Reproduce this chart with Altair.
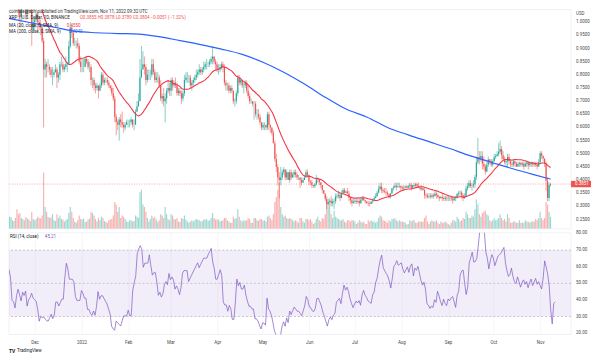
import altair as alt
import pandas as pd
import numpy as np

# ---------------- data (daily XRP/USD) ----------------
start_date = "2021-10-20"

closes = [
    # Oct 20-31 2021
    1.09, 1.05, 1.07, 1.11, 1.09, 1.11, 1.09, 0.98, 1.05, 1.09, 1.08, 1.08,
    # Nov 2021
    1.09, 1.15, 1.14, 1.21, 1.19, 1.20, 1.24, 1.27, 1.24, 1.16,
    1.19, 1.20, 1.21, 1.21, 1.18, 1.07, 1.06, 1.02, 1.07, 1.10,
    1.07, 1.03, 1.07, 1.05, 1.07, 0.97, 1.00, 1.01, 1.03, 1.00,
    # Dec 2021
    0.99, 0.98, 0.93, 0.82, 0.84, 0.83, 0.83, 0.82, 0.80, 0.80,
    0.81, 0.82, 0.79, 0.80, 0.84, 0.84, 0.82, 0.83, 0.84, 0.84,
    0.91, 0.98, 0.96, 0.92, 0.92, 0.92, 0.91, 0.85, 0.83, 0.83, 0.83,
    # Jan 2022
    0.86, 0.85, 0.83, 0.83, 0.78, 0.78, 0.76, 0.75, 0.76, 0.74,
    0.76, 0.80, 0.77, 0.78, 0.78, 0.77, 0.76, 0.75, 0.73, 0.71,
    0.64, 0.62, 0.61, 0.63, 0.62, 0.61, 0.60, 0.61, 0.62, 0.62, 0.62,
    # Feb 2022
    0.63, 0.61, 0.61, 0.66, 0.68, 0.70, 0.79, 0.82, 0.84, 0.83,
    0.78, 0.80, 0.80, 0.80, 0.84, 0.81, 0.78, 0.79, 0.79, 0.76,
    0.71, 0.72, 0.70, 0.71, 0.74, 0.75, 0.74, 0.78,
    # Mar 2022
    0.76, 0.77, 0.76, 0.73, 0.74, 0.73, 0.71, 0.73, 0.78, 0.79,
    0.79, 0.79, 0.76, 0.77, 0.78, 0.79, 0.80, 0.81, 0.82, 0.81,
    0.82, 0.83, 0.84, 0.84, 0.84, 0.85, 0.86, 0.87, 0.85, 0.84, 0.82,
    # Apr 2022
    0.82, 0.83, 0.84, 0.83, 0.77, 0.76, 0.76, 0.74, 0.75, 0.74,
    0.70, 0.70, 0.73, 0.79, 0.77, 0.78, 0.76, 0.76, 0.77, 0.74,
    0.72, 0.70, 0.70, 0.69, 0.69, 0.65, 0.65, 0.64, 0.62, 0.60,
    # May 2022
    0.61, 0.61, 0.60, 0.65, 0.61, 0.60, 0.58, 0.54, 0.48, 0.45,
    0.41, 0.40, 0.41, 0.43, 0.44, 0.41, 0.43, 0.40, 0.43, 0.41,
    0.42, 0.43, 0.42, 0.41, 0.41, 0.40, 0.39, 0.40, 0.41, 0.43, 0.42,
    # Jun 2022
    0.395, 0.392, 0.381, 0.378, 0.384, 0.401, 0.402, 0.392, 0.381, 0.362,
    0.348, 0.328, 0.308, 0.318, 0.322, 0.312, 0.319, 0.321, 0.338, 0.341,
    0.344, 0.332, 0.348, 0.362, 0.352, 0.357, 0.349, 0.334, 0.323, 0.313,
    # Jul 2022
    0.318, 0.322, 0.318, 0.321, 0.312, 0.325, 0.331, 0.323, 0.319, 0.313,
    0.311, 0.309, 0.318, 0.321, 0.332, 0.338, 0.352, 0.366, 0.376, 0.362,
    0.358, 0.355, 0.352, 0.346, 0.337, 0.349, 0.368, 0.372, 0.379, 0.374, 0.376,
    # Aug 2022
    0.378, 0.372, 0.368, 0.372, 0.376, 0.371, 0.379, 0.382, 0.371, 0.381,
    0.379, 0.384, 0.378, 0.371, 0.366, 0.369, 0.362, 0.343, 0.341, 0.336,
    0.338, 0.336, 0.342, 0.339, 0.348, 0.343, 0.336, 0.331, 0.336, 0.331, 0.328,
    # Sep 2022
    0.333, 0.331, 0.333, 0.334, 0.329, 0.323, 0.331, 0.334, 0.348, 0.352,
    0.353, 0.342, 0.331, 0.338, 0.368, 0.377, 0.388, 0.378, 0.379, 0.384,
    0.412, 0.468, 0.487, 0.481, 0.492, 0.462, 0.452, 0.433, 0.458, 0.478,
    # Oct 2022
    0.472, 0.458, 0.472, 0.488, 0.492, 0.498, 0.508, 0.518, 0.494, 0.479,
    0.468, 0.473, 0.488, 0.472, 0.462, 0.458, 0.472, 0.463, 0.452, 0.461,
    0.466, 0.458, 0.463, 0.452, 0.461, 0.467, 0.456, 0.462, 0.468, 0.459, 0.463,
    # Nov 1-11 2022
    0.457, 0.452, 0.468, 0.502, 0.493, 0.482, 0.461, 0.398, 0.332, 0.381, 0.385,
]

highs = [
    1.12, 1.13, 1.10, 1.12, 1.13, 1.13, 1.14, 1.10, 1.07, 1.11, 1.10, 1.11,
    1.10, 1.17, 1.17, 1.22, 1.23, 1.22, 1.25, 1.30, 1.35, 1.25,
    1.21, 1.23, 1.22, 1.23, 1.22, 1.19, 1.09, 1.08, 1.09, 1.12,
    1.11, 1.08, 1.08, 1.09, 1.09, 1.08, 1.02, 1.02, 1.06, 1.04,
    1.02, 1.01, 0.99, 0.94, 0.86, 0.85, 0.86, 0.84, 0.83, 0.83,
    0.82, 0.84, 0.83, 0.81, 0.85, 0.87, 0.85, 0.84, 0.87, 0.85,
    0.93, 1.00, 0.99, 0.97, 0.94, 0.93, 0.94, 0.92, 0.87, 0.86, 0.86,
    0.87, 0.87, 0.86, 0.85, 0.84, 0.79, 0.79, 0.77, 0.77, 0.76,
    0.77, 0.81, 0.81, 0.79, 0.79, 0.79, 0.78, 0.76, 0.76, 0.75,
    0.72, 0.65, 0.63, 0.64, 0.65, 0.66, 0.62, 0.62, 0.63, 0.63, 0.63,
    0.64, 0.63, 0.63, 0.67, 0.70, 0.73, 0.86, 0.91, 0.89, 0.87,
    0.84, 0.82, 0.82, 0.82, 0.86, 0.86, 0.82, 0.81, 0.81, 0.80,
    0.78, 0.73, 0.75, 0.73, 0.75, 0.78, 0.77, 0.79,
    0.79, 0.78, 0.79, 0.77, 0.75, 0.75, 0.74, 0.74, 0.80, 0.81,
    0.81, 0.80, 0.80, 0.78, 0.79, 0.80, 0.82, 0.82, 0.84, 0.83,
    0.83, 0.85, 0.85, 0.86, 0.85, 0.86, 0.87, 0.91, 0.87, 0.86, 0.85,
    0.84, 0.84, 0.85, 0.85, 0.84, 0.78, 0.77, 0.77, 0.76, 0.76,
    0.74, 0.71, 0.74, 0.80, 0.80, 0.79, 0.78, 0.77, 0.78, 0.78,
    0.76, 0.73, 0.71, 0.70, 0.70, 0.70, 0.67, 0.67, 0.65, 0.62,
    0.62, 0.62, 0.61, 0.66, 0.66, 0.61, 0.60, 0.59, 0.55, 0.50,
    0.46, 0.43, 0.45, 0.44, 0.45, 0.44, 0.44, 0.43, 0.44, 0.44,
    0.43, 0.44, 0.44, 0.43, 0.42, 0.41, 0.41, 0.41, 0.42, 0.44, 0.44,
    0.42, 0.40, 0.40, 0.38, 0.39, 0.42, 0.41, 0.40, 0.39, 0.38,
    0.36, 0.35, 0.34, 0.33, 0.33, 0.34, 0.33, 0.33, 0.35, 0.35,
    0.36, 0.35, 0.36, 0.37, 0.37, 0.36, 0.37, 0.36, 0.33, 0.33,
    0.33, 0.33, 0.33, 0.33, 0.33, 0.33, 0.34, 0.34, 0.32, 0.32,
    0.32, 0.32, 0.32, 0.33, 0.34, 0.35, 0.36, 0.38, 0.39, 0.39,
    0.37, 0.37, 0.37, 0.36, 0.35, 0.35, 0.37, 0.38, 0.39, 0.39, 0.39,
    0.39, 0.38, 0.38, 0.38, 0.38, 0.38, 0.38, 0.39, 0.39, 0.38,
    0.39, 0.39, 0.39, 0.39, 0.38, 0.38, 0.37, 0.37, 0.35, 0.35,
    0.35, 0.35, 0.35, 0.35, 0.36, 0.36, 0.35, 0.34, 0.34, 0.35, 0.34,
    0.34, 0.34, 0.34, 0.33, 0.34, 0.34, 0.34, 0.34, 0.35, 0.36,
    0.36, 0.36, 0.35, 0.35, 0.38, 0.39, 0.40, 0.40, 0.39, 0.40,
    0.42, 0.49, 0.56, 0.51, 0.51, 0.51, 0.49, 0.46, 0.47, 0.49,
    0.48, 0.48, 0.48, 0.50, 0.50, 0.51, 0.54, 0.55, 0.53, 0.51,
    0.49, 0.48, 0.50, 0.50, 0.48, 0.47, 0.48, 0.48, 0.47, 0.47,
    0.47, 0.47, 0.47, 0.47, 0.47, 0.47, 0.47, 0.47, 0.47, 0.47, 0.47,
    0.47, 0.47, 0.48, 0.51, 0.51, 0.49, 0.48, 0.47, 0.41, 0.39, 0.39,
]

lows = [
    1.07, 1.03, 1.03, 1.06, 1.07, 1.08, 1.08, 0.96, 0.97, 1.04, 1.06, 1.05,
    1.06, 1.08, 1.11, 1.13, 1.17, 1.17, 1.19, 1.22, 1.20, 1.10,
    1.15, 1.16, 1.19, 1.19, 1.16, 1.05, 1.02, 0.98, 1.00, 1.06,
    1.05, 1.01, 1.02, 1.03, 1.04, 0.91, 0.96, 0.97, 1.00, 0.97,
    0.97, 0.95, 0.92, 0.60, 0.79, 0.79, 0.81, 0.80, 0.79, 0.76,
    0.79, 0.81, 0.75, 0.77, 0.78, 0.83, 0.81, 0.81, 0.82, 0.81,
    0.84, 0.90, 0.94, 0.91, 0.91, 0.90, 0.90, 0.84, 0.81, 0.81, 0.81,
    0.83, 0.84, 0.82, 0.81, 0.76, 0.75, 0.74, 0.73, 0.74, 0.71,
    0.74, 0.75, 0.76, 0.76, 0.77, 0.76, 0.75, 0.74, 0.72, 0.70,
    0.62, 0.57, 0.59, 0.55, 0.60, 0.60, 0.58, 0.59, 0.61, 0.60, 0.60,
    0.61, 0.60, 0.59, 0.61, 0.66, 0.68, 0.72, 0.80, 0.82, 0.80,
    0.76, 0.77, 0.78, 0.78, 0.79, 0.80, 0.77, 0.77, 0.77, 0.75,
    0.70, 0.69, 0.68, 0.62, 0.69, 0.73, 0.72, 0.72,
    0.74, 0.75, 0.75, 0.72, 0.72, 0.72, 0.69, 0.70, 0.72, 0.77,
    0.77, 0.77, 0.75, 0.74, 0.76, 0.77, 0.78, 0.79, 0.80, 0.80,
    0.80, 0.81, 0.82, 0.82, 0.83, 0.83, 0.84, 0.84, 0.84, 0.82, 0.81,
    0.80, 0.81, 0.82, 0.81, 0.76, 0.74, 0.74, 0.73, 0.73, 0.73,
    0.69, 0.68, 0.69, 0.72, 0.76, 0.76, 0.75, 0.73, 0.75, 0.73,
    0.71, 0.69, 0.69, 0.68, 0.63, 0.64, 0.63, 0.63, 0.61, 0.59,
    0.59, 0.59, 0.59, 0.59, 0.59, 0.58, 0.57, 0.54, 0.47, 0.43,
    0.38, 0.33, 0.38, 0.40, 0.42, 0.40, 0.40, 0.40, 0.39, 0.40,
    0.41, 0.41, 0.41, 0.40, 0.40, 0.37, 0.38, 0.39, 0.40, 0.41, 0.41,
    0.38, 0.38, 0.37, 0.37, 0.37, 0.38, 0.39, 0.38, 0.37, 0.35,
    0.35, 0.32, 0.29, 0.30, 0.29, 0.30, 0.30, 0.29, 0.31, 0.33,
    0.33, 0.32, 0.33, 0.35, 0.35, 0.35, 0.35, 0.32, 0.31, 0.30,
    0.31, 0.31, 0.31, 0.31, 0.30, 0.31, 0.32, 0.32, 0.31, 0.31,
    0.30, 0.30, 0.31, 0.31, 0.32, 0.33, 0.34, 0.35, 0.36, 0.35,
    0.35, 0.35, 0.34, 0.34, 0.33, 0.33, 0.35, 0.36, 0.37, 0.36, 0.37,
    0.37, 0.36, 0.36, 0.36, 0.37, 0.37, 0.37, 0.37, 0.36, 0.37,
    0.37, 0.37, 0.37, 0.37, 0.36, 0.36, 0.36, 0.33, 0.33, 0.33,
    0.33, 0.33, 0.33, 0.33, 0.34, 0.33, 0.33, 0.32, 0.33, 0.32, 0.32,
    0.32, 0.32, 0.32, 0.32, 0.32, 0.31, 0.32, 0.32, 0.33, 0.34,
    0.34, 0.33, 0.32, 0.33, 0.34, 0.36, 0.37, 0.37, 0.36, 0.37,
    0.37, 0.40, 0.46, 0.46, 0.47, 0.44, 0.44, 0.42, 0.43, 0.45,
    0.46, 0.45, 0.45, 0.47, 0.48, 0.49, 0.49, 0.50, 0.48, 0.47,
    0.46, 0.45, 0.45, 0.46, 0.45, 0.45, 0.45, 0.45, 0.45, 0.45,
    0.45, 0.45, 0.45, 0.44, 0.45, 0.45, 0.44, 0.45, 0.45, 0.45, 0.45,
    0.45, 0.44, 0.45, 0.46, 0.48, 0.47, 0.45, 0.36, 0.32, 0.32, 0.375,
]

volumes = [
    500, 600, 450, 350, 400, 380, 420, 900, 700, 500, 350, 380,
    450, 600, 500, 700, 550, 400, 450, 700, 800, 900,
    500, 480, 350, 320, 450, 800, 600, 650, 450, 400,
    350, 480, 420, 380, 320, 700, 400, 350, 400, 500,
    450, 420, 550, 2300, 900, 700, 500, 450, 480, 600,
    350, 320, 600, 450, 550, 400, 380, 300, 350, 400,
    650, 900, 700, 450, 300, 250, 350, 550, 400, 380, 420,
    280, 300, 380, 420, 700, 650, 550, 400, 300, 450,
    350, 500, 450, 320, 280, 250, 350, 380, 400, 550,
    1100, 1000, 700, 900, 450, 550, 500, 400, 300, 280, 350,
    350, 300, 320, 550, 500, 450, 1500, 1600, 1000, 900,
    700, 450, 300, 400, 550, 450, 500, 380, 280, 350,
    600, 550, 450, 900, 600, 400, 350, 600,
    550, 400, 380, 450, 300, 280, 450, 400, 550, 380,
    300, 250, 300, 350, 300, 350, 400, 380, 350, 300,
    320, 380, 380, 400, 330, 350, 450, 650, 450, 380, 380,
    380, 300, 320, 350, 450, 450, 350, 300, 250, 250,
    500, 400, 450, 800, 500, 350, 300, 350, 330, 350,
    450, 400, 250, 250, 450, 450, 350, 330, 400, 400,
    330, 350, 300, 500, 550, 450, 350, 600, 1100, 1300,
    1600, 1900, 900, 600, 500, 550, 450, 400, 450, 400,
    350, 300, 350, 300, 250, 450, 450, 300, 250, 400, 400,
    350, 400, 300, 200, 250, 400, 500, 350, 300, 450,
    400, 600, 1100, 900, 800, 600, 450, 750, 500, 450,
    400, 350, 350, 400, 300, 250, 350, 350, 300, 350,
    350, 300, 200, 250, 350, 300, 250, 300, 200, 200,
    350, 300, 350, 300, 300, 250, 300, 450, 550, 500,
    350, 330, 300, 250, 350, 300, 400, 400, 450, 350, 300,
    350, 300, 300, 280, 250, 180, 200, 350, 300, 350,
    350, 250, 250, 300, 300, 280, 300, 450, 550, 300,
    200, 300, 350, 300, 300, 350, 250, 200, 300, 250, 250,
    300, 250, 200, 150, 250, 350, 350, 300, 500, 400,
    300, 350, 450, 400, 700, 600, 450, 450, 550, 500,
    800, 1200, 1000, 600, 500, 650, 700, 750, 600, 550,
    350, 300, 350, 450, 350, 380, 450, 600, 450, 350,
    400, 300, 600, 450, 250, 250, 300, 300, 250, 250,
    350, 250, 250, 250, 350, 300, 300, 250, 300, 300, 300,
    400, 350, 450, 700, 450, 350, 450, 1100, 1000, 700, 500,
]

# MA(200)
ma200_dates = ["2021-11-10", "2021-11-28", "2021-12-12", "2021-12-26", "2022-01-09",
               "2022-01-23", "2022-02-06", "2022-02-20", "2022-03-06", "2022-03-20",
               "2022-04-03", "2022-04-17", "2022-05-01", "2022-05-15", "2022-05-29",
               "2022-06-12", "2022-06-26", "2022-07-10", "2022-07-24", "2022-08-07",
               "2022-08-21", "2022-09-04", "2022-09-18", "2022-10-02", "2022-10-16",
               "2022-10-30", "2022-11-11"]
ma200_values = [1.015, 0.995, 0.98, 0.965, 0.96,
                0.957, 0.955, 0.945, 0.93, 0.915,
                0.898, 0.878, 0.848, 0.81, 0.765,
                0.715, 0.67, 0.64, 0.60, 0.572,
                0.546, 0.52, 0.492, 0.468, 0.444,
                0.422, 0.404]

price_ticks = [0.25, 0.30, 0.35, 0.40, 0.45, 0.50, 0.55, 0.60, 0.65, 0.70,
               0.75, 0.80, 0.85, 0.90, 0.95, 1.00]
rsi_ticks = [20, 30, 40, 50, 60, 70, 80]
month_ticks = [(2021, 12), (2022, 1), (2022, 2), (2022, 3), (2022, 4), (2022, 5),
               (2022, 6), (2022, 7), (2022, 8), (2022, 9), (2022, 10), (2022, 11)]

header_user = "cointelegraph published on TradingView.com, Nov 11, 2022 09:32 UTC"
header_symbol = "XRP / U.S. Dollar, 1D, BINANCE"
header_ohlc = "O0.3855  H0.3878  L0.3789  C0.3804  \u22120.0051 (\u22121.32%)"
ma20_label = "MA (20, close, 0, SMA, 9)"
ma200_label = "MA (200, close, 0, SMA, 9)"
rsi_label = "RSI (14, close)"
rsi_value_text = "45.21"
last_price_text = "0.3851"

# ---------------- derived frames ----------------
n = len(closes)
assert len(highs) == n and len(lows) == n and len(volumes) == n, (n, len(highs), len(lows), len(volumes))
dates = pd.date_range(start_date, periods=n, freq="D")
c = pd.Series(closes, dtype=float)
o = c.shift(1).fillna(c.iloc[0])
h = pd.concat([pd.Series(highs, dtype=float), o, c], axis=1).max(axis=1)
l = pd.concat([pd.Series(lows, dtype=float), o, c], axis=1).min(axis=1)

delta = c.diff().fillna(0)
gain = delta.clip(lower=0)
loss = (-delta).clip(lower=0)
avg_g = gain.ewm(alpha=1 / 14, adjust=False).mean()
avg_l = loss.ewm(alpha=1 / 14, adjust=False).mean()
rsi = 100 - 100 / (1 + avg_g / avg_l)
ma20 = c.rolling(20).mean()

df = pd.DataFrame({
    "date": dates.strftime("%Y-%m-%dT00:00:00"),
    "open": o, "high": h, "low": l, "close": c,
    "vol": volumes, "ma20": ma20, "rsi": rsi,
    "dir": np.where(c >= o, "up", "down"),
})
df = df[dates >= pd.Timestamp("2021-11-10")].reset_index(drop=True)

ma200_df = pd.DataFrame({"date": [d + "T00:00:00" for d in ma200_dates], "ma": ma200_values})
last_df = pd.DataFrame({"p": [closes[-1]], "t": [last_price_text]})
price_tick_df = pd.DataFrame({"p": price_ticks, "t": [f"{v:.4f}" for v in price_ticks]})
rsi_tick_df = pd.DataFrame({"v": rsi_ticks, "t": [f"{v:.2f}" for v in rsi_ticks]})

# ---------------- scales / axes ----------------
FONT = "Roboto"
W = 564
H_PRICE = 220
H_RSI = 102
LBL = "#4a4a4a"

x_scale = alt.Scale(domain=[alt.DateTime(year=2021, month=11, date=14),
                            alt.DateTime(year=2022, month=11, date=21, hours=12)])
tick_vals = [alt.DateTime(year=y, month=m, date=1) for y, m in month_ticks]
label_expr = "month(datum.value) == 0 ? '2022' : timeFormat(datum.value, '%b')"

x_axis_top = alt.Axis(values=tick_vals, labels=False, ticks=False, domain=False,
                      grid=True, gridColor="#eef0f5", gridWidth=0.6, title=None)
x_axis_bottom = alt.Axis(values=tick_vals, labelExpr=label_expr, ticks=False, domain=False,
                         grid=True, gridColor="#eef0f5", gridWidth=0.6, title=None,
                         labelFontSize=4.5, labelColor=LBL, labelFont=FONT,
                         labelPadding=5, labelOverlap=False)

y_scale = alt.Scale(domain=[0.2148, 1.048], nice=False, zero=False)
# horizontal grid only; the tick labels are drawn as text marks at the tick values
y_axis = alt.Axis(orient="right", values=price_ticks, ticks=False, domain=False, labels=False,
                  grid=True, gridColor="#eef0f5", gridWidth=0.6, title=None)

color_scale = alt.Scale(domain=["up", "down"], range=["#26a69a", "#ef5350"])

base = alt.Chart(df).encode(x=alt.X("date:T", scale=x_scale, axis=x_axis_top))

volume = base.mark_bar(width=1.15, opacity=0.45, clip=True).encode(
    y=alt.Y("vol:Q", scale=alt.Scale(domain=[0, 9000], nice=False), axis=None),
    color=alt.Color("dir:N", scale=color_scale, legend=None),
)

wick = base.mark_rule(strokeWidth=0.55, clip=True).encode(
    y=alt.Y("low:Q", scale=y_scale, axis=y_axis),
    y2="high:Q",
    color=alt.Color("dir:N", scale=color_scale, legend=None),
)
body = base.mark_bar(width=1.15, clip=True).encode(
    y=alt.Y("open:Q", scale=y_scale, axis=None),
    y2="close:Q",
    color=alt.Color("dir:N", scale=color_scale, legend=None),
)
ma20_line = base.mark_line(color="#f23645", strokeWidth=1.1, clip=True).encode(
    y=alt.Y("ma20:Q", scale=y_scale, axis=None))
ma200_line = alt.Chart(ma200_df).mark_line(color="#2962ff", strokeWidth=1.2, clip=True,
                                           interpolate="monotone").encode(
    x=alt.X("date:T", scale=x_scale, axis=None), y=alt.Y("ma:Q", scale=y_scale, axis=None))

price_labels = alt.Chart(price_tick_df).mark_text(
    font=FONT, fontSize=4.5, color=LBL, align="left", baseline="middle").encode(
    x=alt.value(W + 5), y=alt.Y("p:Q", scale=y_scale, axis=None), text="t:N")

price_line = alt.Chart(last_df).mark_rule(color="#ef5350", strokeWidth=0.5,
                                          strokeDash=[1, 1.5]).encode(
    y=alt.Y("p:Q", scale=y_scale, axis=None))
price_box = alt.Chart(last_df).mark_point(
    shape="M-1,-0.32H1V0.32H-1Z", filled=True, color="#ef5350", opacity=1, size=400,
    clip=False).encode(x=alt.value(W + 10), y=alt.Y("p:Q", scale=y_scale, axis=None))
price_txt = alt.Chart(last_df).mark_text(
    font=FONT, fontSize=4.5, color="white", align="left", baseline="middle").encode(
    x=alt.value(W + 4), y=alt.Y("p:Q", scale=y_scale, axis=None), text="t:N")


def label(txt, x, y, color="#131722", size=4.5, weight="normal", align="left"):
    return alt.Chart(pd.DataFrame({"t": [txt]})).mark_text(
        font=FONT, fontSize=size, color=color, align=align, baseline="middle",
        fontWeight=weight).encode(x=alt.value(x), y=alt.value(y), text="t:N")


header = alt.layer(
    label(header_user, 0, 2.5, "#333333"),
    label(header_symbol, 0, 8),
    label(header_ohlc, 71, 8, "#ef5350"),
    label(ma20_label, 0, 16),
    label("0.4550", 58, 16, "#f23645"),
    label(ma200_label, 0, 22),
    label("0.4040", 60, 22, "#2962ff"),
    label("USD", W + 5, 4.7, LBL),
)

price_layer = alt.layer(wick, body, ma20_line, ma200_line, price_labels,
                        price_line, price_box, price_txt)
price_panel = alt.layer(volume, price_layer, header).resolve_scale(y="independent").properties(
    width=W, height=H_PRICE)

# ---------------- RSI panel ----------------
rsi_scale = alt.Scale(domain=[19.2, 80.4], nice=False, zero=False)

band_df = pd.DataFrame({"lo": [30], "hi": [70]})
levels_df = pd.DataFrame({"v": [30, 50, 70]})

band = alt.Chart(band_df).mark_rect(color="#7e57c2", opacity=0.1).encode(
    y=alt.Y("lo:Q", scale=rsi_scale, axis=None), y2="hi:Q")
levels = alt.Chart(levels_df).mark_rule(color="#9598a1", strokeWidth=0.5,
                                        strokeDash=[2, 2]).encode(
    y=alt.Y("v:Q", scale=rsi_scale, axis=None))
rsi_line = alt.Chart(df).mark_line(color="#7e57c2", strokeWidth=0.7, clip=True).encode(
    x=alt.X("date:T", scale=x_scale, axis=x_axis_bottom),
    y=alt.Y("rsi:Q", scale=rsi_scale, axis=None))
rsi_labels = alt.Chart(rsi_tick_df).mark_text(
    font=FONT, fontSize=4.5, color=LBL, align="left", baseline="middle").encode(
    x=alt.value(W + 5), y=alt.Y("v:Q", scale=rsi_scale, axis=None), text="t:N")
rsi_text = alt.layer(
    label(rsi_label, 1, 4),
    label(rsi_value_text, 36, 4, "#7e57c2"),
    label("TV", 0, 119, "#131722", 5, "bold"),
    label("TradingView", 8, 119, "#131722", 4.5),
)

rsi_panel = alt.layer(band, levels, rsi_line, rsi_labels, rsi_text).properties(
    width=W, height=H_RSI)

chart = alt.vconcat(price_panel, rsi_panel, spacing=0).configure(
    padding=0, background="white"
).configure_view(stroke="#e0e3eb", strokeWidth=0.5).configure_axis(labelOverlap=False)

chart.save("out.html", embed_options={"renderer": "svg", "actions": False})
